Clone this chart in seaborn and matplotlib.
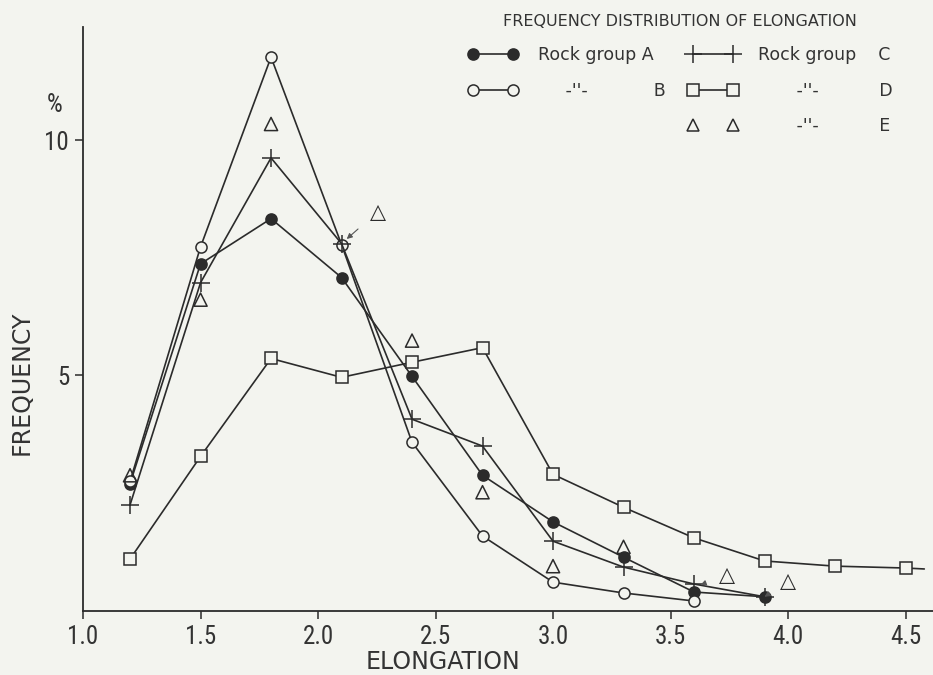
import matplotlib
matplotlib.use("Agg")
import matplotlib.pyplot as plt
from matplotlib.lines import Line2D
from matplotlib import font_manager
import seaborn as sns
import pandas as pd

# ---- data ----
x_main = [1.2, 1.5, 1.8, 2.1, 2.4, 2.7, 3.0, 3.3, 3.6, 3.9]
group_a = [2.70, 7.37, 8.33, 7.08, 4.98, 2.88, 1.89, 1.14, 0.40, 0.30]
x_b = [1.2, 1.5, 1.8, 2.1, 2.4, 2.7, 3.0, 3.3, 3.6]
group_b = [2.75, 7.73, 11.76, 7.78, 3.58, 1.59, 0.61, 0.38, 0.21]
group_c = [2.25, 6.97, 9.62, 7.80, 4.07, 3.50, 1.48, 0.93, 0.57, 0.30]
x_d = [1.2, 1.5, 1.8, 2.1, 2.4, 2.7, 3.0, 3.3, 3.6, 3.9, 4.2, 4.5, 4.58]
group_d = [1.10, 3.28, 5.36, 4.96, 5.28, 5.59, 2.90, 2.20, 1.55, 1.06, 0.95, 0.91, 0.89]
group_e = [2.88, 6.61, 10.34, 7.80, 5.74, 2.52, 0.95, 1.36, 0.50, 0.30]
e_displaced = [False, False, False, True, False, False, False, False, True, True]

x_ticks = [1.0, 1.5, 2.0, 2.5, 3.0, 3.5, 4.0, 4.5]
y_ticks = [5, 10]

legend_title = "FREQUENCY DISTRIBUTION OF ELONGATION"
legend_labels = ["Rock group A", "     -''-            B", "",
                 "Rock group    C", "       -''-           D", "       -''-           E"]

# ---- style ----
sns.set_style("white")
plt.rcParams["font.family"] = ["DejaVu Sans"]
BG = "#f3f4ef"
INK = "#2b2b2b"
TXT = "#333333"

# narrow face for tick labels if one is installed
names = {f.name for f in font_manager.fontManager.ttflist}
tick_fp = None
for cand in ["Liberation Sans Narrow", "DejaVu Sans Condensed", "Roboto Condensed",
             "Open Sans Condensed"]:
    if cand in names:
        tick_fp = font_manager.FontProperties(family=cand, size=18)
        break
if tick_fp is None:
    tick_fp = font_manager.FontProperties(family="DejaVu Sans", stretch="condensed", size=18)

fig = plt.figure(figsize=(9.33, 6.75), dpi=100, facecolor=BG)
ax = fig.add_axes([0.089, 0.095, 0.911, 0.865])
ax.set_facecolor(BG)

lw = 1.2
common = dict(color=INK, linewidth=lw, markeredgewidth=1.1, markeredgecolor=INK)

sns.lineplot(x=x_main, y=group_a, ax=ax, marker="o", markersize=8,
             markerfacecolor=INK, **common)
sns.lineplot(x=x_b, y=group_b, ax=ax, marker="o", markersize=8,
             markerfacecolor=BG, **common)
sns.lineplot(x=x_main, y=group_c, ax=ax, marker="+", markersize=13, **common)
sns.lineplot(x=x_d, y=group_d, ax=ax, marker="s", markersize=8,
             markerfacecolor=BG, markevery=list(range(len(x_d) - 1)), **common)

df_e = pd.DataFrame({"x": x_main, "y": group_e, "moved": e_displaced})
shown = df_e[~df_e["moved"]]
sns.scatterplot(data=shown, x="x", y="y", ax=ax, marker="^", s=90,
                facecolor="none", edgecolor=INK, linewidth=1.1, zorder=5)

offsets = {2.1: (26, 23), 3.6: (24, 9), 3.9: (17, 11)}
for _, r in df_e[df_e["moved"]].iterrows():
    ax.annotate("\u25B3", xy=(r["x"], r["y"]), xytext=offsets[round(r["x"], 1)],
                textcoords="offset points", ha="center", va="center",
                fontsize=15, color=INK,
                arrowprops=dict(arrowstyle="-|>", color="#555555", lw=0.8,
                                mutation_scale=8, shrinkA=8, shrinkB=5))

# ---- axes ----
ax.set_xlim(1.0, 4.617)
ax.set_ylim(0, 12.4)
ax.set_xticks(x_ticks)
ax.set_xticklabels([f"{t:.1f}" for t in x_ticks])
ax.set_yticks(y_ticks)
ax.set_yticklabels([str(t) for t in y_ticks])
for s in ["top", "right"]:
    ax.spines[s].set_visible(False)
for s in ["left", "bottom"]:
    ax.spines[s].set_color(INK)
    ax.spines[s].set_linewidth(1.3)
ax.tick_params(axis="both", direction="out", length=6, width=1.1, color=INK,
               labelcolor=TXT, pad=4, bottom=True, left=True)
for lab in ax.get_xticklabels() + ax.get_yticklabels():
    lab.set_fontproperties(tick_fp)

ax.set_xlabel("ELONGATION", fontsize=17, color=TXT, va="center")
ax.xaxis.set_label_coords(0.424, -0.087)
ax.set_ylabel("FREQUENCY", fontsize=17, color=TXT, va="center")
ax.yaxis.set_label_coords(-0.072, 0.39)
ax.text(-0.034, 0.866, "%", transform=ax.transAxes, fontproperties=tick_fp,
        color=TXT, ha="center", va="center")

# ---- legend ----
h_a = Line2D([], [], marker="o", markersize=8, markerfacecolor=INK, **common)
h_b = Line2D([], [], marker="o", markersize=8, markerfacecolor=BG, **common)
h_blank = Line2D([], [], linestyle="none", marker=None)
h_c = Line2D([], [], marker="+", markersize=13, **common)
h_d = Line2D([], [], marker="s", markersize=8, markerfacecolor=BG, **common)
h_e = Line2D([], [], marker="^", markersize=9, markerfacecolor="none",
             linestyle="none", markeredgecolor=INK, markeredgewidth=1.1)
leg = ax.legend([h_a, h_b, h_blank, h_c, h_d, h_e], legend_labels,
                title=legend_title, ncol=2, numpoints=2, frameon=False,
                loc="upper right", bbox_to_anchor=(0.972, 1.0),
                bbox_transform=fig.transFigure, borderaxespad=0.4,
                fontsize=12.5, title_fontsize=11.5, handlelength=2.9,
                handletextpad=1.15, labelspacing=1.0, columnspacing=1.3)
for t in leg.get_texts():
    t.set_color(TXT)
leg.get_title().set_color(TXT)

fig.savefig("out.png", dpi=100, facecolor=BG)
